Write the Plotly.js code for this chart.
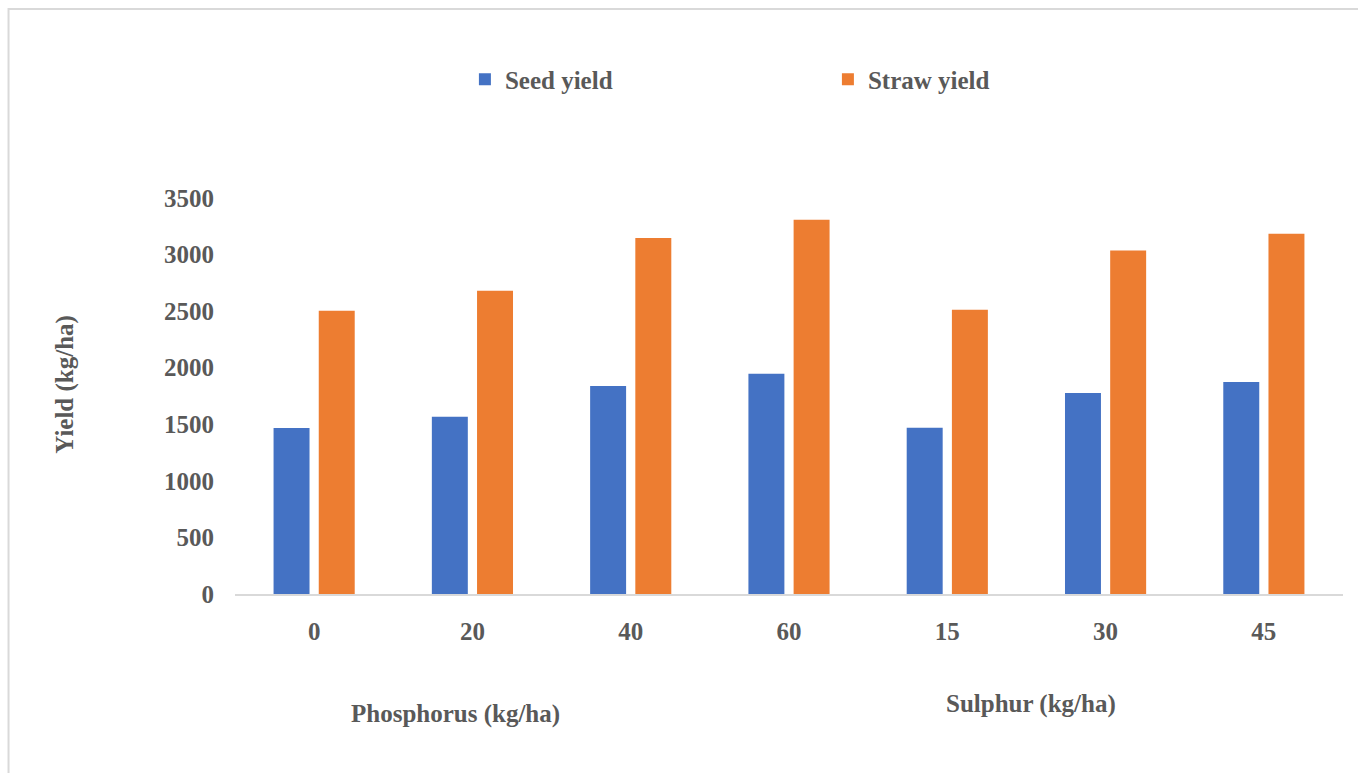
<!DOCTYPE html>
<html>
<head>
<meta charset="utf-8">
<script src="https://cdn.plot.ly/plotly-3.0.1.min.js"></script>
<style>html,body{margin:0;padding:0;background:#fff;}#chart{width:1358px;height:773px;}</style>
</head>
<body>
<div id="chart"></div>
<script>
const categories = ["0", "20", "40", "60", "15", "30", "45"];
const seedYield = [1467, 1567, 1838, 1947, 1470, 1777, 1874];
const strawYield = [2504, 2681, 3147, 3308, 2513, 3037, 3185];
const yTicks = [0, 500, 1000, 1500, 2000, 2500, 3000, 3500];
const seriesNames = ["Seed yield", "Straw yield"];
const groupTitles = ["Phosphorus (kg/ha)", "Sulphur (kg/ha)"];
const yTitle = "Yield (kg/ha)";

const FONT = "Liberation Serif";
const GREY = "#595959";

const traces = [
  {type: "bar", name: seriesNames[0], x: categories, y: seedYield,
   marker: {color: "#4472C4", line: {width: 0}}},
  {type: "bar", name: seriesNames[1], x: categories, y: strawYield,
   marker: {color: "#ED7D31", line: {width: 0}}}
];

const layout = {
  width: 1358, height: 773,
  margin: {l: 235, r: 15, t: 198, b: 179},
  paper_bgcolor: "#ffffff", plot_bgcolor: "#ffffff",
  font: {family: FONT, size: 25, color: GREY, weight: "bold"},
  barmode: "group", bargap: 0.429, bargroupgap: 0.204,
  showlegend: true,
  legend: {orientation: "h", x: 0.2075, xanchor: "left", y: 1.299, yanchor: "middle",
           entrywidth: 318, font: {family: FONT, size: 25, color: GREY, weight: "bold"},
           bgcolor: "rgba(0,0,0,0)"},
  xaxis: {type: "category", showgrid: false, zeroline: false, showline: true,
          linecolor: "#d9d9d9", linewidth: 2, ticks: "", ticklabelstandoff: 14,
          tickfont: {family: FONT, size: 25, color: GREY, weight: "bold"}, fixedrange: true},
  yaxis: {range: [0, 3500], tickvals: yTicks, ticktext: yTicks.map(String),
          showgrid: false, zeroline: false, showline: false, ticks: "", ticklabelstandoff: 20,
          tickfont: {family: FONT, size: 25, color: GREY, weight: "bold"}, fixedrange: true},
  annotations: [
    {text: groupTitles[0], xref: "paper", yref: "paper", x: 0.1986, y: -0.302,
     showarrow: false, xanchor: "center", yanchor: "middle",
     font: {family: FONT, size: 25, color: GREY, weight: "bold"}},
    {text: groupTitles[1], xref: "paper", yref: "paper", x: 0.7184, y: -0.277,
     showarrow: false, xanchor: "center", yanchor: "middle",
     font: {family: FONT, size: 25, color: GREY, weight: "bold"}},
    {text: yTitle, xref: "paper", yref: "paper", x: -0.1534, y: 0.5285, textangle: -90,
     showarrow: false, xanchor: "center", yanchor: "middle",
     font: {family: FONT, size: 25, color: GREY, weight: "bold"}}
  ],
  shapes: [
    {type: "rect", xref: "paper", yref: "paper", x0: -0.2044, x1: 1.03, y0: -0.47, y1: 1.477,
     line: {color: "#d9d9d9", width: 2}, fillcolor: "rgba(0,0,0,0)", layer: "below"}
  ]
};

Plotly.newPlot("chart", traces, layout, {displayModeBar: false, staticPlot: true});
</script>
</body>
</html>
